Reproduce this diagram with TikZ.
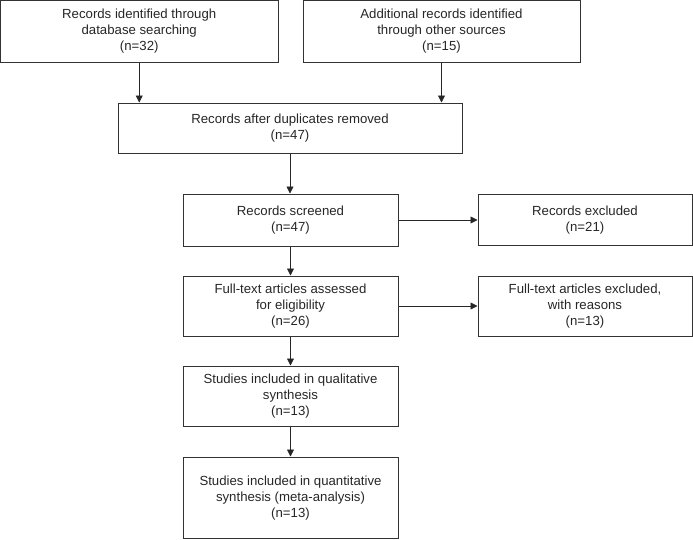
\documentclass[tikz,border=0pt]{standalone}
\usepackage{fontspec}
\setmainfont{Liberation Sans}
\usetikzlibrary{arrows.meta}

\begin{document}
\begin{tikzpicture}[x=1pt,y=-1pt,
  font=\fontsize{13.2}{16}\selectfont,
  box/.style={draw=black!80,line width=1pt,align=center,text=black!85,inner sep=0pt},
  flow/.style={draw=black!85,line width=0.8pt,-{Triangle[length=7pt,width=7pt]}}]

\useasboundingbox (0,0) rectangle (693,539);

% ---- identification ----
\node[box,minimum width=277.5pt,minimum height=61.5pt] (dbsearch) at (139.25,31.25)
  {Records identified through\\database searching\\(n=32)};
\node[box,minimum width=277pt,minimum height=61.5pt] (othersrc) at (441.5,31.25)
  {Additional records identified\\through other sources\\(n=15)};

% ---- screening ----
\node[box,minimum width=344pt,minimum height=50pt] (dedup) at (290,128)
  {Records after duplicates removed\\(n=47)};
\node[box,minimum width=215pt,minimum height=52pt] (screened) at (290.5,220)
  {Records screened\\(n=47)};
\node[box,minimum width=214pt,minimum height=51pt] (excluded) at (585,220)
  {Records excluded\\(n=21)};

% ---- eligibility ----
\node[box,minimum width=215pt,minimum height=60pt] (fulltext) at (290.5,306)
  {Full-text articles assessed\\for eligibility\\(n=26)};
\node[box,minimum width=214pt,minimum height=60pt] (ftexcluded) at (585,306)
  {Full-text articles excluded,\\with reasons\\(n=13)};

% ---- included ----
\node[box,minimum width=215pt,minimum height=60pt] (qualitative) at (290.5,396)
  {Studies included in qualitative\\synthesis\\(n=13)};
\node[box,minimum width=215pt,minimum height=81.5pt] (quantitative) at (290.5,497.75)
  {Studies included in quantitative\\synthesis (meta-analysis)\\(n=13)};

% ---- arrows ----
\draw[flow] (dbsearch.south) -- (dbsearch.south |- dedup.north);
\draw[flow] (othersrc.south) -- (othersrc.south |- dedup.north);
\draw[flow] (dedup.south) -- (dedup.south |- screened.north);
\draw[flow] (screened.east) -- (excluded.west);
\draw[flow] (screened.south) -- (fulltext.north);
\draw[flow] (fulltext.east) -- (ftexcluded.west);
\draw[flow] (fulltext.south) -- (qualitative.north);
\draw[flow] (qualitative.south) -- (quantitative.north);

\end{tikzpicture}
\end{document}
